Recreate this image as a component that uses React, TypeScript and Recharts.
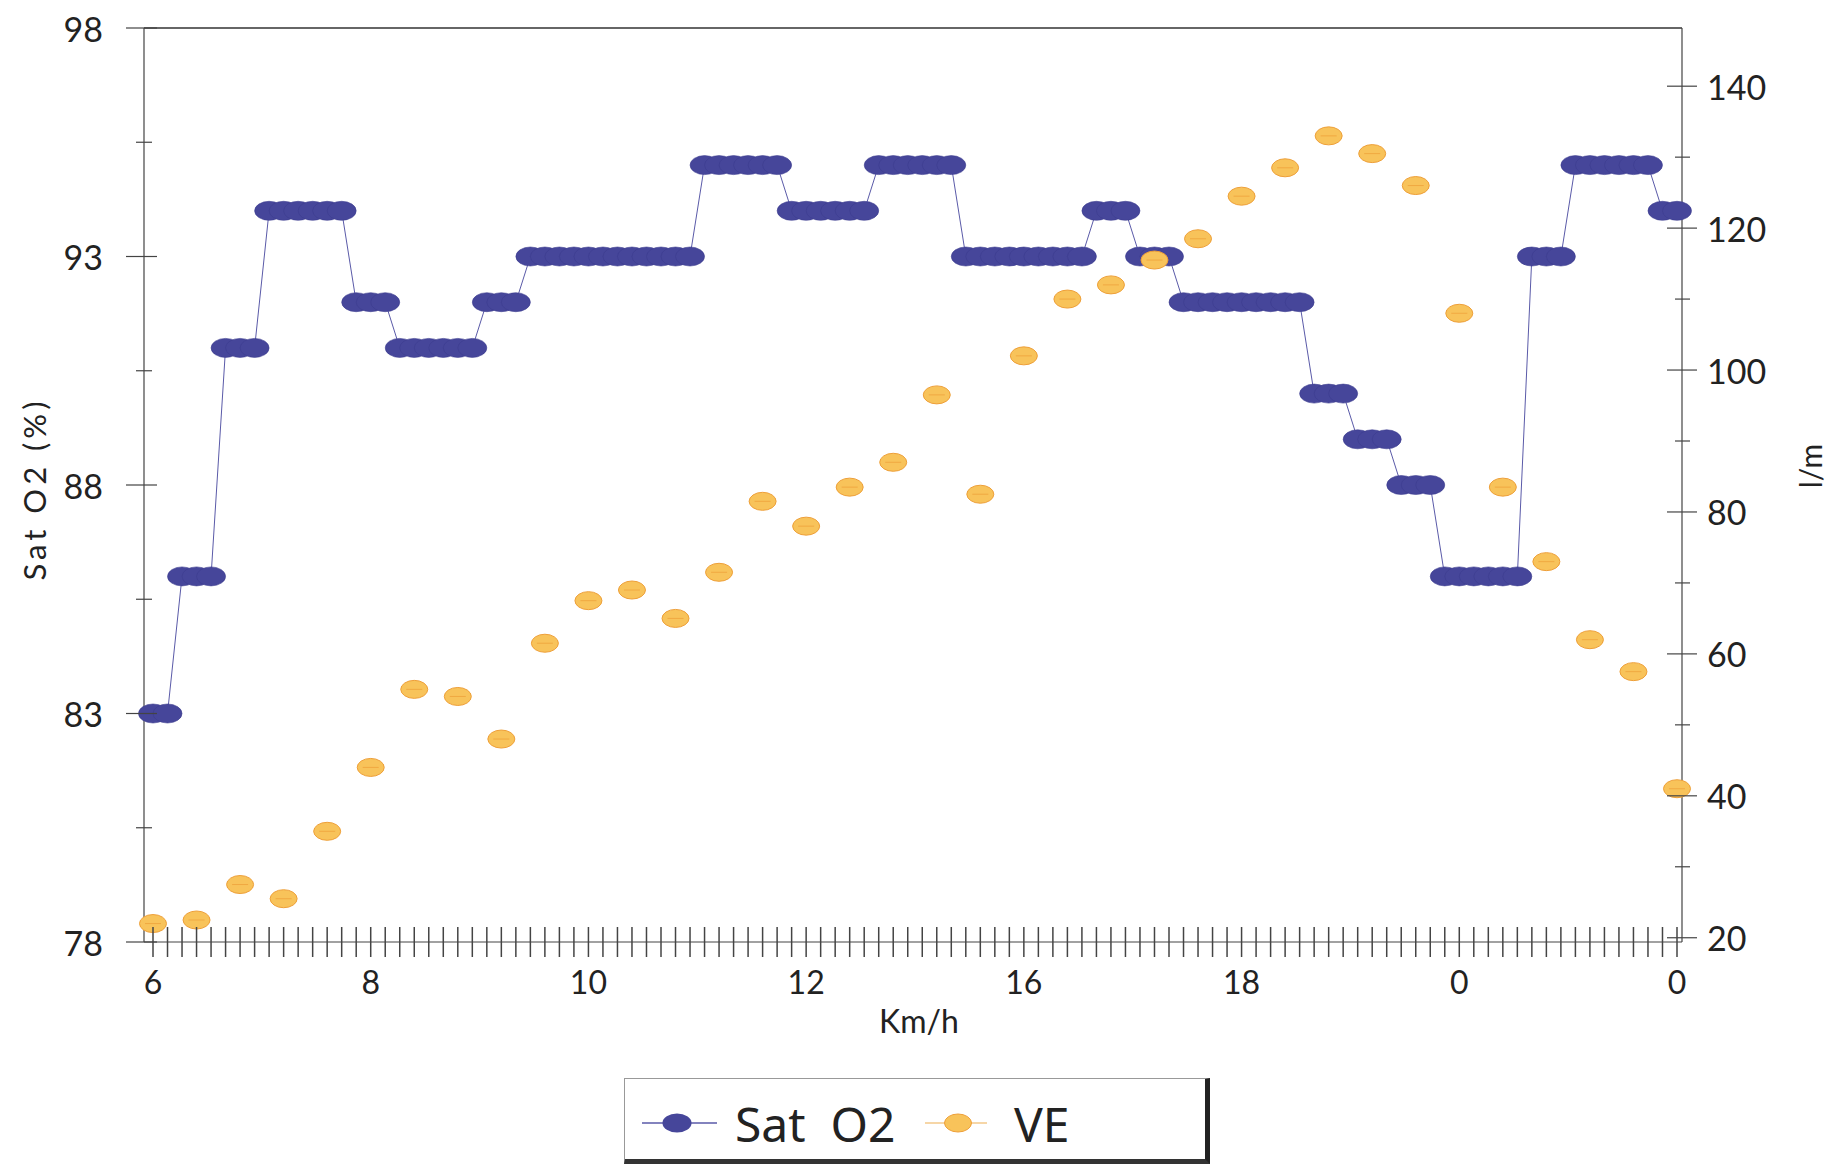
import { ComposedChart, Line, XAxis, YAxis, Legend, ReferenceLine } from 'recharts';

// Sat O2 reading at every sample (one per x tick)
const satO2 = [
  83, 83,
  86, 86, 86,
  91, 91, 91,
  94, 94, 94, 94, 94, 94,
  92, 92, 92,
  91, 91, 91, 91, 91, 91,
  92, 92, 92,
  93, 93, 93, 93, 93, 93, 93, 93, 93, 93, 93, 93,
  95, 95, 95, 95, 95, 95,
  94, 94, 94, 94, 94, 94,
  95, 95, 95, 95, 95, 95,
  93, 93, 93, 93, 93, 93, 93, 93, 93,
  94, 94, 94,
  93, 93, 93,
  92, 92, 92, 92, 92, 92, 92, 92, 92,
  90, 90, 90,
  89, 89, 89,
  88, 88, 88,
  86, 86, 86, 86, 86, 86,
  93, 93, 93,
  95, 95, 95, 95, 95, 95,
  94, 94,
];

// VE (l/m), one reading every third sample
const veValues = [
  22, 22.5, 27.5, 25.5, 35, 44, 55, 54, 48, 61.5, 67.5, 69,
  65, 71.5, 81.5, 78, 83.5, 87, 96.5, 82.5, 102, 110, 112, 115.5,
  118.5, 124.5, 128.5, 133, 130.5, 126, 108, 83.5, 73, 62, 57.5, 41,
];
const veEvery = 3;

const xLabels = ['6', '8', '10', '12', '16', '18', '0', '0'];
const xLabelIndex = [0, 15, 30, 45, 60, 75, 90, 105];

const leftMajor = [78, 83, 88, 93, 98];
const leftMinor = [80.5, 85.5, 90.5, 95.5];
const rightMajor = [20, 40, 60, 80, 100, 120, 140];
const rightMinor = [30, 50, 70, 90, 110, 130];

const rows = satO2.map((sat, i) => ({
  i,
  sat,
  ve: i % veEvery === 0 ? veValues[i / veEvery] : null,
}));

const W = 1820;
const H = 1157;
const MARGIN = { top: 20, right: 0, bottom: 1, left: 0 };
const LEFT_W = 136;
const RIGHT_W = 146;
const X_H = 134;
const LEGEND_H = 88;
const PLOT_BOTTOM = H - MARGIN.bottom - LEGEND_H - X_H;
const LEFT_X = MARGIN.left + LEFT_W;
const RIGHT_X = W - MARGIN.right - RIGHT_W;

const FONT = 'Lato, "Noto Sans", sans-serif';
const LEGEND_FONT = '"Noto Sans", sans-serif';
const INK = '#222';
const AXIS = '#444';
const SAT_FILL = '#46469a';
const VE_FILL = '#f8c35a';
const VE_EDGE = '#ee9f38';

function SatDot(props: any) {
  const { cx, cy, index } = props;
  if (cx == null || cy == null) return <g key={`s${index}`} />;
  return <ellipse key={`s${index}`} cx={cx} cy={cy} rx={14.5} ry={9.5} fill={SAT_FILL} stroke="#3c3c8e" strokeWidth={0.6} />;
}

function VeDot(props: any) {
  const { cx, cy, index, value } = props;
  if (value == null || cx == null || cy == null) return <g key={`v${index}`} />;
  return (
    <g key={`v${index}`}>
      <ellipse cx={cx} cy={cy} rx={13.5} ry={9} fill={VE_FILL} stroke={VE_EDGE} strokeWidth={1} />
      <line x1={cx - 8} x2={cx + 8} y1={cy} y2={cy} stroke={VE_EDGE} strokeWidth={1} opacity={0.7} />
    </g>
  );
}

function LeftTick(props: any) {
  const { y, payload } = props;
  const major = leftMajor.includes(payload.value);
  return (
    <g>
      <line x1={LEFT_X - (major ? 18 : 8)} x2={LEFT_X + (major ? 13 : 8)} y1={y} y2={y} stroke={AXIS} strokeWidth={1.2} />
      {major && (
        <text x={95} y={y} textAnchor="end" dominantBaseline="central" fontFamily={FONT} fontSize={34} fill={INK}>
          {payload.value}
        </text>
      )}
    </g>
  );
}

function RightTick(props: any) {
  const { y, payload } = props;
  const major = rightMajor.includes(payload.value);
  return (
    <g>
      <line x1={RIGHT_X - (major ? 15 : 7)} x2={RIGHT_X + (major ? 15 : 8)} y1={y} y2={y} stroke={AXIS} strokeWidth={1.2} />
      {major && (
        <text x={RIGHT_X + 25} y={y} textAnchor="start" dominantBaseline="central" fontFamily={FONT} fontSize={34} fill={INK}>
          {payload.value}
        </text>
      )}
    </g>
  );
}

function XTick(props: any) {
  const { x, payload } = props;
  const k = xLabelIndex.indexOf(payload.value);
  return (
    <g>
      <line x1={x} x2={x} y1={PLOT_BOTTOM - 15} y2={PLOT_BOTTOM + 15} stroke={AXIS} strokeWidth={1.5} />
      {k >= 0 && (
        <text x={x} y={PLOT_BOTTOM + 39} textAnchor="middle" dominantBaseline="central" fontFamily={FONT} fontSize={32} fill={INK}>
          {xLabels[k]}
        </text>
      )}
    </g>
  );
}

function LegendBox() {
  return (
    <div style={{ position: 'relative', height: LEGEND_H }}>
      <div
        style={{
          position: 'absolute',
          left: 616,
          top: 2,
          width: 580,
          height: 80,
          background: '#fff',
          borderTop: '1px solid #999',
          borderLeft: '1px solid #999',
          borderRight: '5px solid #222',
          borderBottom: '5px solid #333',
        }}
      >
        <svg width={580} height={80} style={{ display: 'block', overflow: 'visible' }}>
          <line x1={17} x2={92} y1={44} y2={44} stroke="#5a5aa8" strokeWidth={1.5} />
          <ellipse cx={52} cy={44} rx={14.5} ry={9.5} fill={SAT_FILL} />
          <text x={110} y={44} dominantBaseline="central" fontFamily={LEGEND_FONT} fontSize={48} fill={INK} style={{ whiteSpace: 'pre' }}>
            {'Sat  O2'}
          </text>
          <line x1={300} x2={362} y1={44} y2={44} stroke="#f3c98a" strokeWidth={1.5} />
          <ellipse cx={333} cy={44} rx={13.5} ry={9} fill={VE_FILL} stroke={VE_EDGE} />
          <text x={389} y={44} dominantBaseline="central" fontFamily={LEGEND_FONT} fontSize={48} fill={INK}>
            VE
          </text>
        </svg>
      </div>
    </div>
  );
}

export default function App() {
  return (
    <div style={{ width: W, height: H, overflow: 'hidden', background: '#fff' }}>
      <ComposedChart width={W} height={H} data={rows} margin={MARGIN}>
        <XAxis
          dataKey="i"
          type="number"
          domain={[0, rows.length - 1]}
          ticks={rows.map((r) => r.i)}
          interval={0}
          padding={{ left: 9, right: 5 }}
          height={X_H}
          tickLine={false}
          axisLine={{ stroke: AXIS, strokeWidth: 1.2 }}
          tick={XTick}
          label={{
            value: 'Km/h',
            content: () => (
              <text x={911} y={PLOT_BOTTOM + 78} textAnchor="middle" dominantBaseline="central" fontFamily={FONT} fontSize={32} fill={INK}>
                Km/h
              </text>
            ),
          }}
        />
        <YAxis
          yAxisId="left"
          domain={[78, 98]}
          ticks={[...leftMajor, ...leftMinor].sort((a, b) => a - b)}
          interval={0}
          width={LEFT_W}
          tickLine={false}
          axisLine={{ stroke: AXIS, strokeWidth: 1.2 }}
          tick={LeftTick}
          label={{
            value: 'Sat O2 (%)',
            content: () => (
              <text x={26} y={481} transform="rotate(-90, 26, 481)" textAnchor="middle" dominantBaseline="central" fontFamily={FONT} fontSize={31} letterSpacing={4} fill={INK} style={{ whiteSpace: 'pre' }}>
                {'Sat O2 (%)'}
              </text>
            ),
          }}
        />
        <YAxis
          yAxisId="right"
          orientation="right"
          domain={[19.4, 148.2]}
          ticks={[...rightMajor, ...rightMinor].sort((a, b) => a - b)}
          interval={0}
          width={RIGHT_W}
          tickLine={false}
          axisLine={{ stroke: AXIS, strokeWidth: 1.2 }}
          tick={RightTick}
          label={{
            value: 'l/m',
            content: () => (
              <text x={1802} y={458} transform="rotate(-90, 1802, 458)" textAnchor="middle" dominantBaseline="central" fontFamily={FONT} fontSize={30} fill={INK}>
                l/m
              </text>
            ),
          }}
        />
        <ReferenceLine yAxisId="left" y={98} stroke="#333" strokeWidth={1.5} />
        <Line
          yAxisId="left"
          dataKey="sat"
          name="Sat O2"
          stroke="#5a5aa8"
          strokeWidth={1}
          dot={SatDot}
          activeDot={false}
          isAnimationActive={false}
        />
        <Line
          yAxisId="right"
          dataKey="ve"
          name="VE"
          stroke="none"
          dot={VeDot}
          activeDot={false}
          connectNulls={false}
          isAnimationActive={false}
        />
        <Legend verticalAlign="bottom" content={() => <LegendBox />} />
      </ComposedChart>
    </div>
  );
}
